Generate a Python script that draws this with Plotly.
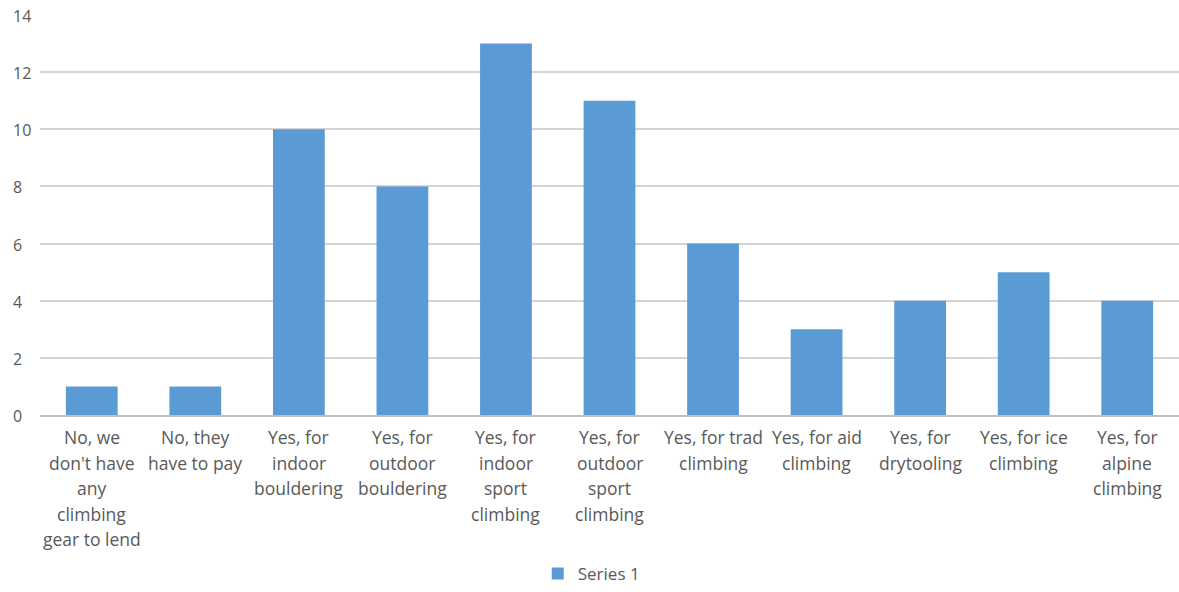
import plotly.graph_objects as go

categories = [
    "No, we<br>don't have<br>any<br>climbing<br>gear to lend",
    "No, they<br>have to pay",
    "Yes, for<br>indoor<br>bouldering",
    "Yes, for<br>outdoor<br>bouldering",
    "Yes, for<br>indoor<br>sport<br>climbing",
    "Yes, for<br>outdoor<br>sport<br>climbing",
    "Yes, for trad<br>climbing",
    "Yes, for aid<br>climbing",
    "Yes, for<br>drytooling",
    "Yes, for ice<br>climbing",
    "Yes, for<br>alpine<br>climbing",
]
series_1 = [1, 1, 10, 8, 13, 11, 6, 3, 4, 5, 4]
y_ticks = [0, 2, 4, 6, 8, 10, 12, 14]

font_family = "Open Sans, Lato, sans-serif"
text_gray = "#595959"
label_size = 17.5
line_step = 25.6   # px between wrapped label lines
first_line = 22    # px from the axis line to the first label line

fig = go.Figure()
fig.add_trace(go.Bar(
    x=categories,
    y=series_1,
    name="Series 1",
    marker=dict(color="#5b9bd5", line=dict(width=0)),
))

annotations = []
# Category labels, one annotation per wrapped line for Excel-like line spacing
for cat in categories:
    for i, line in enumerate(cat.split("<br>")):
        annotations.append(dict(
            x=cat, xref="x", y=0, yref="y",
            text=line, showarrow=False,
            xanchor="center", yanchor="middle",
            yshift=-(first_line + i * line_step),
            font=dict(family=font_family, size=label_size, color=text_gray),
        ))
# Value axis labels, left aligned
for v in y_ticks:
    annotations.append(dict(
        x=0, xref="paper", y=v, yref="y",
        text=str(v), showarrow=False,
        xanchor="left", yanchor="middle",
        xshift=-29, yshift=-1,
        font=dict(family=font_family, size=16, color=text_gray),
    ))

fig.update_layout(
    width=1179,
    height=592,
    margin=dict(l=40, r=0, t=15, b=176),
    paper_bgcolor="white",
    plot_bgcolor="white",
    bargap=0.5,
    font=dict(family=font_family, size=15, color=text_gray),
    showlegend=True,
    legend=dict(
        orientation="h",
        x=0.437, xanchor="left",
        y=-0.399, yanchor="middle",
        font=dict(size=17, color=text_gray),
        itemwidth=30,
    ),
    annotations=annotations,
    xaxis=dict(
        showgrid=False,
        showline=True,
        linecolor="#bfbfbf",
        linewidth=1.5,
        ticks="",
        showticklabels=False,
    ),
    yaxis=dict(
        range=[0, 14],
        tickvals=y_ticks,
        showgrid=True,
        gridcolor="#d4d4d4",
        gridwidth=1.5,
        zeroline=False,
        showline=False,
        ticks="",
        showticklabels=False,
    ),
)

fig.write_html("out.html")
